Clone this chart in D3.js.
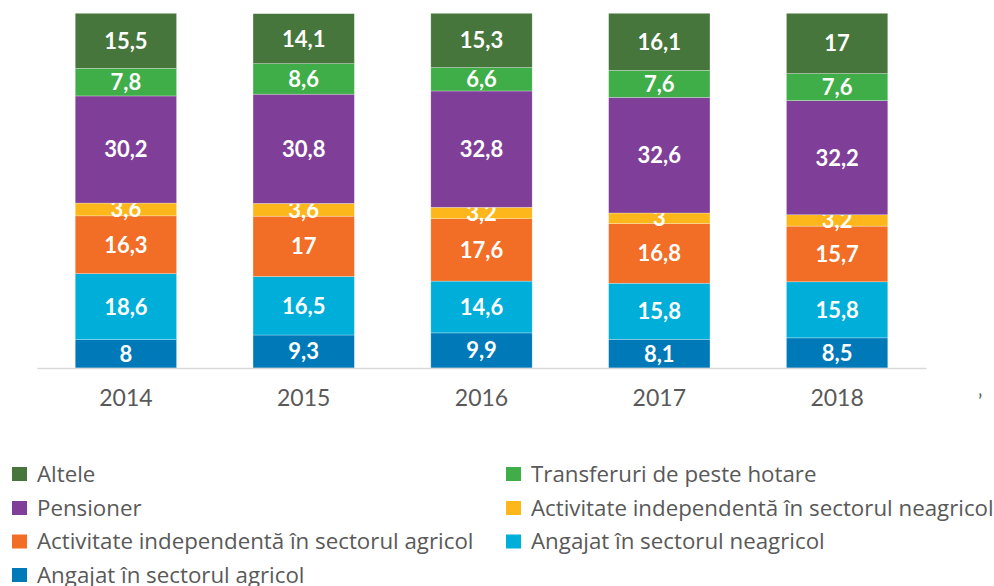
<!DOCTYPE html>
<html>
<head>
<meta charset="utf-8">
<script src="https://cdn.jsdelivr.net/npm/d3@7"></script>
<style>
  body { margin: 0; background: #fff; }
  svg { display: block; }
</style>
</head>
<body>
<div id="container"></div>
<script>
const years = ["2014", "2015", "2016", "2017", "2018"];

// stack order bottom -> top
const seriesKeys = ["agricAng", "neagricAng", "agricInd", "neagricInd", "pensioner", "transfer", "altele"];

const agricAng   = [8, 9.3, 9.9, 8.1, 8.5];
const neagricAng = [18.6, 16.5, 14.6, 15.8, 15.8];
const agricInd   = [16.3, 17, 17.6, 16.8, 15.7];
const neagricInd = [3.6, 3.6, 3.2, 3, 3.2];
const pensioner  = [30.2, 30.8, 32.8, 32.6, 32.2];
const transfer   = [7.8, 8.6, 6.6, 7.6, 7.6];
const altele     = [15.5, 14.1, 15.3, 16.1, 17];

const labels = {
  altele: "Altele",
  transfer: "Transferuri de peste hotare",
  pensioner: "Pensioner",
  neagricInd: "Activitate independentă în sectorul neagricol",
  agricInd: "Activitate independentă în sectorul agricol",
  neagricAng: "Angajat în sectorul neagricol",
  agricAng: "Angajat în sectorul agricol"
};

const legendOrder = ["altele", "transfer", "pensioner", "neagricInd", "agricInd", "neagricAng", "agricAng"];

const seriesValues = {agricAng, neagricAng, agricInd, neagricInd, pensioner, transfer, altele};

const data = years.map((y, i) => {
  const row = {year: y};
  seriesKeys.forEach(k => row[k] = seriesValues[k][i]);
  return row;
});

const color = d3.scaleOrdinal()
  .domain(seriesKeys)
  .range(["#0079b9", "#00afd9", "#f26e26", "#fdb71a", "#7f3f98", "#3fae49", "#46763b"]);

const width = 994, height = 586;
const svg = d3.select("#container").append("svg")
  .attr("width", width)
  .attr("height", height);

const x = d3.scaleBand()
  .domain(years)
  .range([37, 926])
  .paddingInner(0.43)
  .paddingOuter(0.215);

const y = d3.scaleLinear()
  .domain([0, 100])
  .range([368, 13.3]);

const stacked = d3.stack().keys(seriesKeys)(data);

const layers = svg.append("g")
  .selectAll("g")
  .data(stacked)
  .join("g")
  .attr("fill", d => color(d.key));

layers.selectAll("rect")
  .data(d => d)
  .join("rect")
  .attr("x", d => x(d.data.year))
  .attr("width", x.bandwidth())
  .attr("y", d => y(d[1]))
  .attr("height", d => y(d[0]) - y(d[1]))
  .attr("stroke", "rgba(255,255,255,0.45)")
  .attr("stroke-width", 0.6);

// value labels
layers.selectAll("text")
  .data(d => d)
  .join("text")
  .attr("x", d => x(d.data.year) + x.bandwidth() / 2)
  .attr("y", d => (y(d[0]) + y(d[1])) / 2)
  .attr("dy", "0.36em")
  .attr("text-anchor", "middle")
  .attr("fill", "#fff")
  .style("font-family", "Lato, 'Open Sans', sans-serif")
  .style("font-weight", "bold")
  .style("font-size", "22px")
  .text(d => String(+(d[1] - d[0]).toFixed(1)).replace(".", ","));

// x axis
const xAxis = svg.append("g")
  .attr("transform", "translate(0,368)")
  .call(d3.axisBottom(x).tickSize(0).tickPadding(22));
xAxis.select(".domain").attr("stroke", "#d9d9d9").attr("stroke-width", 1.3);
xAxis.selectAll("text")
  .attr("fill", "#595959")
  .style("font-family", "Lato, 'Open Sans', sans-serif")
  .style("font-size", "23px");

// stray mark at right edge
svg.append("text")
  .attr("x", 978)
  .attr("y", 408)
  .attr("fill", "#595959")
  .style("font-family", "Lato, sans-serif")
  .style("font-size", "20px")
  .text("ʼ");

// legend
const legend = svg.append("g");
const rowY = [474, 508, 541.5, 575];
legendOrder.forEach((key, i) => {
  const col = i % 2, row = Math.floor(i / 2);
  const gx = col === 0 ? 12 : 506;
  const item = legend.append("g")
    .attr("transform", `translate(${gx},${rowY[row]})`);
  item.append("rect")
    .attr("x", 0)
    .attr("y", -7)
    .attr("width", 15)
    .attr("height", 14)
    .attr("fill", color(key));
  item.append("text")
    .attr("x", 25)
    .attr("y", 0)
    .attr("dy", "0.35em")
    .attr("fill", "#595959")
    .style("font-family", "'Open Sans', Lato, sans-serif")
    .style("font-size", "22.3px")
    .text(labels[key]);
});
</script>
</body>
</html>
